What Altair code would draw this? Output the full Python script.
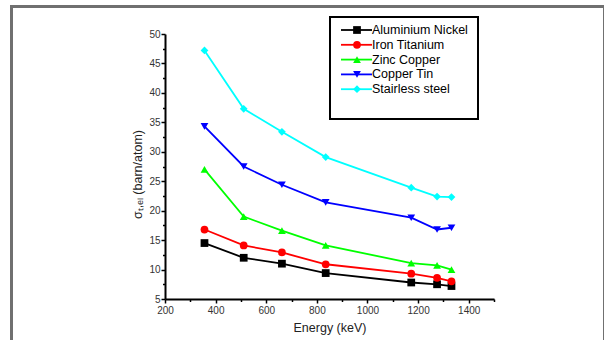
import altair as alt
import pandas as pd

energy = [356, 511, 662, 835, 1173, 1275, 1332]
series_names = ["Aluminium Nickel", "Iron Titanium", "Zinc Copper", "Copper Tin", "Stairless steel"]
aluminium_nickel = [14.5, 12.0, 11.0, 9.4, 7.8, 7.5, 7.2]
iron_titanium = [16.8, 14.1, 12.9, 10.9, 9.3, 8.6, 8.0]
zinc_copper = [27.0, 19.0, 16.6, 14.1, 11.1, 10.7, 10.0]
copper_tin = [34.3, 27.5, 24.4, 21.4, 18.8, 16.8, 17.1]
stainless_steel = [47.2, 37.3, 33.4, 29.1, 23.9, 22.4, 22.3]
colors = ["#000000", "#ff0000", "#00ff00", "#0000ff", "#00ffff"]
shapes = ["square", "circle", "triangle-up", "triangle-down", "diamond"]

x_ticks = [200, 300, 400, 500, 600, 700, 800, 900, 1000, 1100, 1200, 1300, 1400, 1500]
y_ticks = [5, 7.5, 10, 12.5, 15, 17.5, 20, 22.5, 25, 27.5, 30, 32.5, 35, 37.5, 40, 42.5, 45, 47.5, 50]

all_vals = [aluminium_nickel, iron_titanium, zinc_copper, copper_tin, stainless_steel]
rows = []
for name, vals in zip(series_names, all_vals):
    for e, v in zip(energy, vals):
        rows.append({"energy": e, "value": v, "series": name})
df = pd.DataFrame(rows)
leg_df = pd.DataFrame({"series": series_names, "idx": list(range(len(series_names)))})

FONT = "Liberation Sans, Arial, sans-serif"
color_scale = alt.Scale(domain=series_names, range=colors)
shape_scale = alt.Scale(domain=series_names, range=shapes)
x_scale = alt.Scale(domain=[200, 1500], nice=False, zero=False)
y_scale = alt.Scale(domain=[5, 50], nice=False, zero=False)

x_enc = alt.X(
    "energy:Q", scale=x_scale,
    axis=alt.Axis(
        values=x_ticks, tickCount=40, format="d", title="Energy (keV)",
        labelExpr="datum.value % 200 === 0 && datum.value < 1500 ? datum.label : ''",
        tickSize={"condition": {"test": "datum.value % 200 === 0 && datum.value < 1500", "value": 4}, "value": 2.5},
        labelOverlap=False, labelFlush=False, labelPadding=2, titlePadding=6,
    ),
)
y_enc = alt.Y(
    "value:Q", scale=y_scale,
    axis=alt.Axis(
        values=y_ticks, tickCount=40, format="d", title="σₜ,ₑₗ (barn/atom)",
        labelExpr="datum.value % 5 === 0 ? datum.label : ''",
        tickSize={"condition": {"test": "datum.value % 5 === 0", "value": 4}, "value": 2.5},
        labelOverlap=False, labelFlush=False, labelPadding=1,
        titleY=140, titlePadding=4,
    ),
)

base = alt.Chart(df)
lines = base.mark_line(strokeWidth=1.8).encode(
    x=x_enc, y=y_enc,
    color=alt.Color("series:N", scale=color_scale, legend=None),
    detail="series:N",
)
points = base.mark_point(filled=True, size=60, opacity=1).encode(
    x="energy:Q", y="value:Q",
    color=alt.Color("series:N", scale=color_scale, legend=None),
    shape=alt.Shape("series:N", scale=shape_scale, legend=None),
)

frame = alt.Chart(pd.DataFrame({"a": [0]})).mark_rect(
    fill="transparent", stroke="#707070", strokeWidth=3
).encode(
    x=alt.value(-153.5), x2=alt.value(439.5),
    y=alt.value(-27.5), y2=alt.value(340 - 34 + 20),
)

box = alt.Chart(pd.DataFrame({"a": [0]})).mark_rect(
    fill="white", stroke="black", strokeWidth=2
).encode(
    x=alt.value(165), x2=alt.value(313), y=alt.value(-17), y2=alt.value(85),
)

leg = alt.Chart(leg_df).transform_calculate(ly="-4 + datum.idx * 14.8")
leg_rules = leg.mark_rule(strokeWidth=1.8).encode(
    x=alt.value(176), x2=alt.value(207),
    y=alt.Y("ly:Q", scale=None, axis=None),
    color=alt.Color("series:N", scale=color_scale, legend=None),
)
leg_pts = leg.mark_point(filled=True, size=60, opacity=1).encode(
    x=alt.value(192),
    y=alt.Y("ly:Q", scale=None, axis=None),
    color=alt.Color("series:N", scale=color_scale, legend=None),
    shape=alt.Shape("series:N", scale=shape_scale, legend=None),
)
leg_txt = leg.mark_text(align="left", baseline="middle", font=FONT, fontSize=12.5, color="black").encode(
    x=alt.value(207),
    y=alt.Y("ly:Q", scale=None, axis=None),
    text="series:N",
)

chart = alt.layer(frame, lines, points, box, leg_rules, leg_pts, leg_txt).properties(
    width=329, height=265,
    autosize=alt.AutoSizeParams(type="none"),
    padding={"left": 165, "top": 34, "right": 110, "bottom": 41},
    background="white",
).configure_view(stroke=None).configure_axis(
    grid=False,
    domainColor="black", domainWidth=2,
    tickColor="black", tickWidth=1.5,
    labelFont=FONT, labelFontSize=10, labelColor="#333333",
    titleFont=FONT, titleFontSize=12.5, titleFontWeight="normal", titleColor="#222222",
)

chart.save("out.html", embed_options={"renderer": "svg", "actions": False})
